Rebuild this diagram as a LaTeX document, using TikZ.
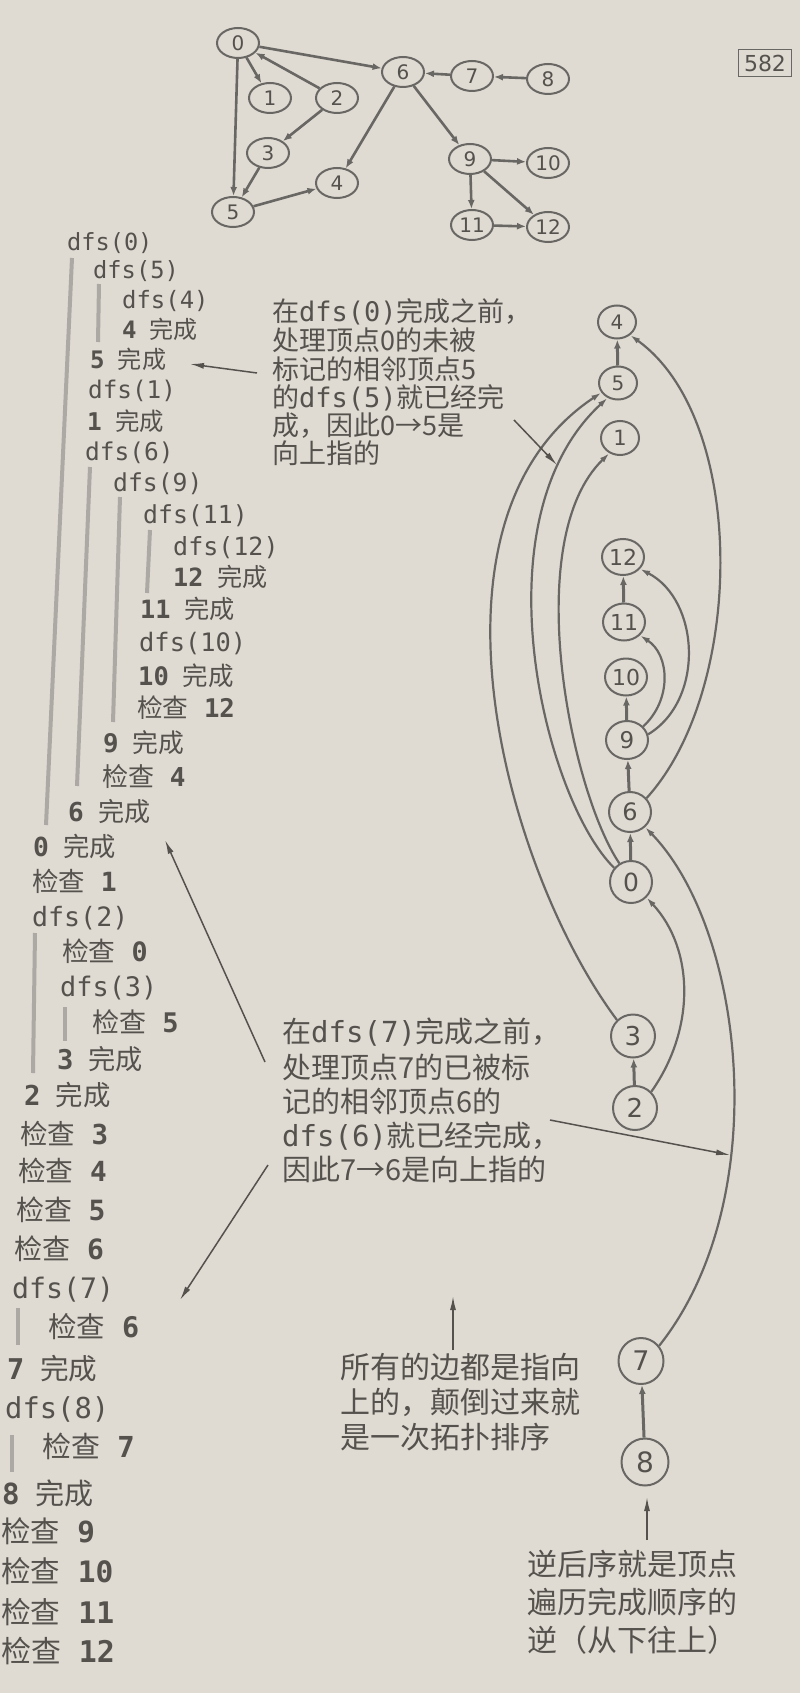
\documentclass[tikz,border=0pt]{standalone}
\usepackage{fontspec}
\usetikzlibrary{arrows.meta,shapes.geometric}
\setmainfont{DejaVu Sans}
\newfontfamily\cjk{Noto Sans CJK SC}
\newfontfamily\mono{DejaVu Sans Mono}
\definecolor{paper}{RGB}{223,219,211}
\definecolor{ink}{RGB}{85,82,78}
\definecolor{edgec}{RGB}{105,103,100}
\definecolor{barc}{RGB}{172,169,164}
\newcommand\dfsl[1]{{\mono dfs(#1)}}
\newcommand\done[1]{{\mono\bfseries #1}\hspace{0.55em}{\cjk 完成}}
\newcommand\chk[1]{{\cjk 检查}\hspace{0.6em}{\mono\bfseries #1}}
\newcommand\Lt[5]{\node[ltx, font=\fontsize{#4}{#4}\selectfont] (#1) at (#2,{#3+0.35*#4}) {#5};}
\newcommand\Ct[5]{\node[ltx, font=\cjk\fontsize{#4}{#4}\selectfont] (#1) at (#2,{#3+0.36*#4}) {#5};}
\tikzset{
  ltx/.style={anchor=base west, inner sep=0pt, text=ink},
  tnode/.style={draw=edgec, line width=2pt, ellipse, minimum width=42pt, minimum height=30pt, inner sep=0pt, font=\fontsize{20}{20}\selectfont, text=ink},
  rnode/.style n args={3}{draw=edgec, line width=2pt, ellipse, minimum width=#1pt, minimum height=#2pt, inner sep=0pt, font=\fontsize{#3}{#3}\selectfont, text=ink},
  tedge/.style={draw=edgec, line width=2.6pt, -{Latex[length=9pt,width=7pt]}},
  sedge/.style={draw=edgec, line width=3pt, -{Latex[length=9pt,width=7pt]}},
  cedge/.style={draw=edgec, line width=2.2pt, -{Latex[length=10pt,width=6pt]}},
  pointer/.style={draw=ink, line width=1.5pt, -{Latex[length=14pt,width=6pt]}},
  scopebar/.style={draw=barc, line width=4pt},
}
\begin{document}
\begin{tikzpicture}[x=1pt,y=-1pt]
\useasboundingbox (0,0) rectangle (800,1693);
\fill[paper] (0,0) rectangle (800,1693);

% ---------- top graph ----------
\node[tnode] (t0) at (238,43) {0};
\node[tnode] (t1) at (270,98) {1};
\node[tnode] (t2) at (337,98) {2};
\node[tnode] (t3) at (268,153) {3};
\node[tnode] (t4) at (337,183) {4};
\node[tnode] (t5) at (233,212) {5};
\node[tnode] (t6) at (403,72) {6};
\node[tnode] (t7) at (472,76) {7};
\node[tnode] (t8) at (548,79) {8};
\node[tnode] (t9) at (470,159) {9};
\node[tnode] (t10) at (548,163) {10};
\node[tnode] (t11) at (472,225) {11};
\node[tnode] (t12) at (548,227) {12};
\draw[tedge] (t0) -- (t6);
\draw[tedge] (t0) -- (t1);
\draw[tedge] (t2) -- (t0);
\draw[tedge] (t0) -- (t5);
\draw[tedge] (t2) -- (t3);
\draw[tedge] (t3) -- (t5);
\draw[tedge] (t5) -- (t4);
\draw[tedge] (t6) -- (t4);
\draw[tedge] (t7) -- (t6);
\draw[tedge] (t8) -- (t7);
\draw[tedge] (t6) -- (t9);
\draw[tedge] (t9) -- (t10);
\draw[tedge] (t9) -- (t11);
\draw[tedge] (t9) -- (t12);
\draw[tedge] (t11) -- (t12);

\node[draw=edgec, line width=1.2pt, minimum width=53pt, minimum height=27pt, inner sep=0pt, font=\fontsize{22}{22}\selectfont, text=ink] (pg) at (765,63) {582};

% ---------- left column: scope bars ----------
\draw[scopebar] (72,258) -- (46,825);
\draw[scopebar] (99,284) -- (98,342);
\draw[scopebar] (90,467) -- (77,786);
\draw[scopebar] (120,497) -- (113,722);
\draw[scopebar] (150,530) -- (147,593);
\draw[scopebar] (35,933) -- (33,1073);
\draw[scopebar] (65,1007) -- (65,1041);
\draw[scopebar] (18,1308) -- (18,1345);
\draw[scopebar] (12,1435) -- (12,1472);

% ---------- left column: trace ----------
\Lt{l1}{67}{242}{23.6}{\dfsl{0}}
\Lt{l2}{93}{270}{23.7}{\dfsl{5}}
\Lt{l3}{122}{300}{23.9}{\dfsl{4}}
\Lt{l4}{122}{330}{24.0}{\done{4}}
\Lt{l5}{90}{360}{24.1}{\done{5}}
\Lt{l6}{88}{390}{24.3}{\dfsl{1}}
\Lt{l7}{87}{422}{24.4}{\done{1}}
\Lt{l8}{85}{452}{24.5}{\dfsl{6}}
\Lt{l9}{113}{483}{24.7}{\dfsl{9}}
\Lt{l10}{143}{515}{24.8}{\dfsl{11}}
\Lt{l11}{173}{547}{25.0}{\dfsl{12}}
\Lt{l12}{173}{578}{25.1}{\done{12}}
\Lt{l13}{140}{610}{25.2}{\done{11}}
\Lt{l14}{139}{643}{25.4}{\dfsl{10}}
\Lt{l15}{138}{677}{25.5}{\done{10}}
\Lt{l16}{137}{708}{25.7}{\chk{12}}
\Lt{l17}{103}{743}{25.8}{\done{9}}
\Lt{l18}{102}{777}{26.0}{\chk{4}}
\Lt{l19}{68}{812}{26.1}{\done{6}}
\Lt{l20}{33}{847}{26.3}{\done{0}}
\Lt{l21}{32}{882}{26.4}{\chk{1}}
\Lt{l22}{32}{917}{26.6}{\dfsl{2}}
\Lt{l23}{62}{952}{26.7}{\chk{0}}
\Lt{l24}{60}{987}{26.9}{\dfsl{3}}
\Lt{l25}{92}{1023}{27.0}{\chk{5}}
\Lt{l26}{57}{1060}{27.2}{\done{3}}
\Lt{l27}{24}{1096}{27.4}{\done{2}}
\Lt{l28}{20}{1135}{27.5}{\chk{3}}
\Lt{l29}{18}{1172}{27.7}{\chk{4}}
\Lt{l30}{16}{1211}{27.9}{\chk{5}}
\Lt{l31}{14}{1250}{28.0}{\chk{6}}
\Lt{l32}{12}{1289}{28.2}{\dfsl{7}}
\Lt{l33}{48}{1328}{28.4}{\chk{6}}
\Lt{l34}{7}{1369}{28.6}{\done{7}}
\Lt{l35}{5}{1408}{28.8}{\dfsl{8}}
\Lt{l36}{42}{1447}{28.9}{\chk{7}}
\Lt{l37}{2}{1494}{29.1}{\done{8}}
\Lt{l38}{1}{1532}{29.3}{\chk{9}}
\Lt{l39}{1}{1572}{29.5}{\chk{10}}
\Lt{l40}{1}{1613}{29.7}{\chk{11}}
\Lt{l41}{1}{1652}{29.9}{\chk{12}}

% ---------- right column ----------
\node[rnode={38}{33}{20}] (r4) at (617,322) {4};
\node[rnode={38}{33}{20}] (r5) at (618,383) {5};
\node[rnode={38}{34}{21}] (r1) at (620,438) {1};
\node[rnode={42}{36}{22}] (r12) at (623,557) {12};
\node[rnode={42}{37}{22}] (r11) at (624,622) {11};
\node[rnode={42}{37}{22}] (r10) at (626,677) {10};
\node[rnode={42}{38}{23}] (r9) at (627,740) {9};
\node[rnode={42}{40}{24}] (r6) at (630,812) {6};
\node[rnode={42}{42}{25}] (r0) at (631,882) {0};
\node[rnode={44}{43}{26}] (r3) at (633,1036) {3};
\node[rnode={44}{44}{26}] (r2) at (635,1108) {2};
\node[rnode={45}{46}{27}] (r7) at (641,1361) {7};
\node[rnode={47}{47}{28}] (r8) at (645,1462) {8};

\draw[sedge] (r5) -- (r4);
\draw[sedge] (r11) -- (r12);
\draw[sedge] (r9) -- (r10);
\draw[sedge] (r6) -- (r9);
\draw[sedge] (r0) -- (r6);
\draw[sedge] (r2) -- (r3);
\draw[sedge] (r8) -- (r7);

\draw[cedge] (r3.135) .. controls (505,870) and (410,520) .. (r5.210);
\draw[cedge] (r0.140) .. controls (545,800) and (475,520) .. (r5.235);
\draw[cedge] (r0.122) .. controls (570,790) and (520,540) .. (r1.235);
\draw[cedge] (r9.40) .. controls (672,700) and (670,655) .. (r11.-40);
\draw[cedge] (r9.15) .. controls (705,700) and (700,600) .. (r12.-35);
\draw[cedge] (r6.40) .. controls (745,690) and (748,420) .. (r4.-45);
\draw[cedge] (r2.45) .. controls (695,1030) and (695,950) .. (r0.-45);
\draw[cedge] (r7.40) .. controls (775,1200) and (745,930) .. (r6.-45);

% ---------- annotation A ----------
\Ct{a1}{272}{312}{27}{在{\mono dfs(0)}完成之前，}
\Ct{a2}{272}{341}{27}{处理顶点0的未被}
\Ct{a3}{272}{370}{27}{标记的相邻顶点5}
\Ct{a4}{272}{398}{27}{的{\mono dfs(5)}就已经完}
\Ct{a5}{272}{426}{27}{成，因此0→5是}
\Ct{a6}{272}{454}{27}{向上指的}
\coordinate (pA1s) at (257,373);
\coordinate (pA1e) at (190,364);
\coordinate (pA2s) at (514,420);
\coordinate (pA2e) at (557,465);
\draw[pointer] (pA1s) -- (pA1e);
\draw[pointer] (pA2s) -- (pA2e);

% ---------- annotation B ----------
\Ct{b1}{282}{1032}{29}{在{\mono dfs(7)}完成之前，}
\Ct{b2}{282}{1068}{29}{处理顶点7的已被标}
\Ct{b3}{282}{1102}{29}{记的相邻顶点6的}
\Ct{b4}{282}{1136}{29}{{\mono dfs(6)}就已经完成，}
\Ct{b5}{282}{1170}{29}{因此7→6是向上指的}
\coordinate (pB1s) at (265,1062);
\coordinate (pB1e) at (165,840);
\coordinate (pB2s) at (268,1165);
\coordinate (pB2e) at (180,1300);
\coordinate (pB3s) at (550,1120);
\coordinate (pB3e) at (730,1155);
\draw[pointer] (pB1s) -- (pB1e);
\draw[pointer] (pB2s) -- (pB2e);
\draw[pointer] (pB3s) -- (pB3e);

% ---------- annotation C ----------
\Ct{c1}{340}{1368}{30}{所有的边都是指向}
\Ct{c2}{340}{1403}{30}{上的，颠倒过来就}
\Ct{c3}{340}{1438}{30}{是一次拓扑排序}
\coordinate (pCs) at (453,1350);
\coordinate (pCe) at (453,1296);
\draw[pointer] (pCs) -- (pCe);

% ---------- annotation D ----------
\Ct{d1}{527}{1565}{30}{逆后序就是顶点}
\Ct{d2}{527}{1603}{30}{遍历完成顺序的}
\Ct{d3}{527}{1641}{30}{逆（从下往上）}
\coordinate (pDs) at (647,1540);
\coordinate (pDe) at (647,1497);
\draw[pointer] (pDs) -- (pDe);
\end{tikzpicture}
\end{document}
